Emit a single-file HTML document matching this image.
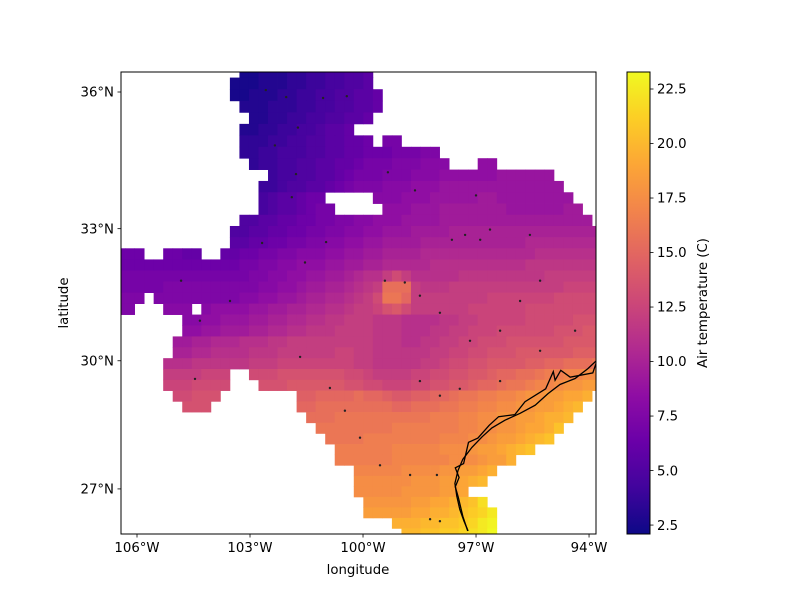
<!DOCTYPE html>
<html><head><meta charset="utf-8"><style>
html,body{margin:0;padding:0;background:#fff;}
svg text{font-family:"DejaVu Sans","Liberation Sans",sans-serif;fill:#000;}
</style></head><body>
<svg id="fig" width="800" height="600" viewBox="0 0 800 600" xmlns="http://www.w3.org/2000/svg">
<rect width="800" height="600" fill="#fff"/>
<defs>
<clipPath id="plotclip"><rect x="121" y="72" width="475" height="462"/></clipPath>
<linearGradient id="plasma" x1="0" y1="1" x2="0" y2="0"></linearGradient>
</defs>
<g id="cells" clip-path="url(#plotclip)"></g>
<g id="coast" clip-path="url(#plotclip)"></g>
<g id="stations" clip-path="url(#plotclip)"></g>
<rect x="121" y="72" width="475" height="462" fill="none" stroke="#000" stroke-width="1"/>
<g id="xticks"></g>
<g id="yticks"></g>
<text x="358" y="574" font-size="13.3" text-anchor="middle">longitude</text>
<text x="68" y="303" font-size="13.3" text-anchor="middle" transform="rotate(-90 68 303)">latitude</text>
<rect x="627" y="72" width="23" height="462" fill="url(#plasma)"/>
<rect x="627" y="72" width="23" height="462" fill="none" stroke="#000" stroke-width="1"/>
<g id="cbticks"></g>
<text x="707" y="303" font-size="13.3" text-anchor="middle" transform="rotate(-90 707 303)">Air temperature (C)</text>
</svg>
<script>
// ---- data ----
const levelChars = "ABCDEFGHIJKLMNOPQRSTUVWXYZabcdefghijklmnopqr"; // A=2.0, step 0.5
const rowSegments = [
 [[13,"BBCCCDDEEFFGGH"]],
 [[12,"BBBCCCDDEEFFGGH"]],
 [[12,"BBCCCDDEEFFGGHHI"]],
 [[13,"CCCDDDEEFFGGHHI"]],
 [[14,"CCDDEEFFGGHHI"]],
 [[13,"CCDDEEFFGHHI"]],
 [[13,"DDDEEFFGGHHIIJ"],[28,"KK"]],
 [[13,"DDEEFFFGGHHIIJJJKKKLL"]],
 [[14,"DEEFFGGHHIIJKKKLLLMMM"],[38,"NN"]],
 [[16,"EFFGGHHIJKKKLLLMMMNNNNNNOOOOOO"]],
 [[15,"EEFGGHHIJKLLLMMMNNNOOOOOOOOOOOOO"]],
 [[15,"FGHHIJJ"],[27,"MMMNNNOOOOOPPOOOOOOOO"]],
 [[15,"FGHHIJKK"],[28,"NNNOOOPPPPPPPOOOOOOPP"]],
 [[13,"GGHHIIJJKKLLMMNNNOOOOPPPPPPPPPPPPPPPP"]],
 [[12,"GGHHIIJJKKLLMMNNOOOPPPPQQQQQQQQQQQQQQQQ"]],
 [[12,"HHIIJJKKLLMMNNOOPPPPQQQQQQQQQQQRRRRRRRR"]],
 [[0,"JJJ"],[5,"JJII"],[11,"IIJJKKLLMMMNNOOPPQQQQRRRRRRRRRRRRSSSSSSS"]],
 [[0,"JJJJJJJJJJJJJKKLLMMNNNOOPPQQRRRRRSSSSSSSSSSTTTTTTTT"]],
 [[0,"KKKKKKKKKKKKKKLLMMNNOOPPQRSSUWUSSSSSTTTTTTTTTUUUUUU"]],
 [[0,"KKKKKLLLLLLLLLLMMNNOPPQQRSTUbbbUTTTUUUUUUUUUUUUVVVV"]],
 [[0,"LLL"],[4,"LLLLLLLLLMMNNOOPQQRRSTUWccaUUUUUUUUVVVVVVVWWWWW"]],
 [[0,"LL"],[5,"MMM"],[9,"MNNNNOOPPQQRRSSTUUVXYWUUUUUUVVVVVVWWWWWWWW"]],
 [[7,"MMNNOOOPPQQRRSSTTUUUTTTSSSSTTUUVVVVVWWWWWXXX"]],
 [[7,"NNOOPPPQQRRSSTTTUUUUTTTSSSTTUUVVVWWWWWWXXXYY"]],
 [[6,"PPQQRRRSSSTTUUUUUUUUUTTTSSTTUUVVWWWXXXXXXYYYY"]],
 [[6,"QQRRSSSSTTTUUUUUUVVUUTTTTTTUUVVWWXXXYYYYYYZZZ"]],
 [[5,"SSSTTTTTTUUUVVVVVVVVUUTTTTTUUVWWXXYYYYZZaabbbc"]],
 [[5,"UUUUVVV"],[14,"WWWXXXXXXXWWVUUUUVVWWXXYYZaabbcddeeff"]],
 [[5,"VVVWWWW"],[15,"XXXYYYYYYXXWWVVVWWXXYYZaabccdeefgghh"]],
 [[6,"WWXXX"],[19,"ZZaaaabaaZYYZZaabccddeefgghhiij"]],
 [[7,"XXX"],[19,"aabbbbbbbbaabbbccddeeffgghhijk"]],
 [[20,"bbbccccccccccdddeeffgghhijjk"]],
 [[21,"ccccccccdddddddeeffgghiijl"]],
 [[22,"ccccddddddddeeeffghhijkl"]],
 [[23,"ddddddeeeeefffghhijkl"]],
 [[23,"ddddddeeeeeefffghhj"]],
 [[25,"eeeeeffffgghhij"]],
 [[25,"ffffffggghhijk"]],
 [[25,"fffffgggghhi"]],
 [[26,"ggggghhiijklo"]],
 [[26,"hhhhhiijjklmnp"]],
 [[29,"jjjkkllmnpq"]],
 [[30,"kkllmmnopr"]]
];
const gridLon0 = -106.57, gridDLon = 0.253;
const gridLatTop = 36.56, gridDLat = 0.25;
const vmin = 2.09, vmax = 23.28;
const xTickLons = [-106,-103,-100,-97,-94];
const xTickLabels = ["106°W","103°W","100°W","97°W","94°W"];
const yTickLats = [36,33,30,27];
const yTickLabels = ["36°N","33°N","30°N","27°N"];
const cbTicks = [2.5,5.0,7.5,10.0,12.5,15.0,17.5,20.0,22.5];
const cbTickLabels = ["2.5","5.0","7.5","10.0","12.5","15.0","17.5","20.0","22.5"];
const coastLon = [-93.81,-94.03,-94.37,-94.77,-95.09,-95.43,-95.83,-96.23,-96.58,-96.84,-97.11,-97.35,-97.48,-97.56,-97.51,-97.43,-97.32,-97.21];
const coastLat = [30.0,29.82,29.59,29.45,29.24,28.97,28.78,28.62,28.44,28.23,27.98,27.70,27.43,27.13,26.83,26.51,26.23,26.0];
const bayLon = [-93.81,-93.9,-94.5,-94.75,-94.9,-94.95,-95.15,-95.7,-95.97,-96.4,-96.65,-96.95,-97.2,-97.33,-97.55,-97.45,-97.55,-97.47,-97.35,-97.22];
const bayLat = [29.95,29.72,29.62,29.78,29.55,29.75,29.35,29.05,28.75,28.7,28.5,28.2,28.1,27.6,27.5,27.27,27.05,26.8,26.35,26.0];
const stationLon = [-102.58,-102.04,-101.06,-100.43,-101.73,-102.34,-101.78,-101.89,-102.68,-100.98,-101.54,-104.83,-103.53,-104.33,-104.46,-101.67,-100.88,-100.48,-100.08,-99.55,-98.75,-98.04,-98.22,-97.96,-99.42,-98.89,-98.49,-97.96,-97.16,-96.36,-95.83,-95.30,-97.64,-97.29,-96.89,-96.63,-95.57,-94.37,-98.62,-99.34,-97.0,-97.96,-97.43,-98.49,-96.36,-95.30];
const stationLat = [36.04,35.89,35.87,35.91,35.23,34.84,34.21,33.70,32.68,32.70,32.24,31.83,31.37,30.92,29.58,30.09,29.37,28.84,28.21,27.56,27.33,27.33,26.28,26.23,31.83,31.79,31.49,31.10,30.46,30.69,31.37,31.83,32.75,32.86,32.75,32.98,32.86,30.69,33.85,34.25,33.74,29.19,29.35,29.53,29.53,30.23];

// ---- scales ----
const NS = "http://www.w3.org/2000/svg";
function merc(lat){ return Math.log(Math.tan(Math.PI/4 + lat*Math.PI/360)); }
const M36 = merc(36), YSCALE = 2150.6;
function xOf(lon){ return 137 + (lon + 106) * 37.67; }
function yOf(lat){ return 92 - (merc(lat) - M36) * YSCALE; }
const plasmaStops = [[13,8,135],[65,4,157],[106,0,168],[143,13,164],[177,42,144],[204,71,120],[225,100,98],[242,132,75],[252,166,54],[252,206,37],[240,249,33]];
function plasma(t){
  t = Math.max(0, Math.min(1, t));
  const p = t*10, i = Math.min(9, Math.floor(p)), f = p - i;
  const a = plasmaStops[i], b = plasmaStops[i+1];
  return "rgb(" + a.map((v,k)=>Math.round(v + (b[k]-v)*f)).join(",") + ")";
}
function colorOf(v){ return plasma((v - vmin)/(vmax - vmin)); }
function mk(tag, attrs, parent){
  const e = document.createElementNS(NS, tag);
  for (const k in attrs) e.setAttribute(k, attrs[k]);
  parent.appendChild(e); return e;
}

// gradient
const grad = document.getElementById('plasma');
plasmaStops.forEach((s,i)=>{ mk('stop',{offset:(i*10)+'%','stop-color':'rgb('+s.join(',')+')'},grad); });

// cells
const gCells = document.getElementById('cells');
rowSegments.forEach((segs, r)=>{
  const latTop = gridLatTop - r*gridDLat, latBot = latTop - gridDLat;
  const y0 = yOf(latTop), y1 = yOf(latBot);
  segs.forEach(([start, str])=>{
    for (let j=0;j<str.length;j++){
      const c = start + j;
      const v = 2 + levelChars.indexOf(str[j]) * 0.5;
      const x0 = xOf(gridLon0 + c*gridDLon), x1 = xOf(gridLon0 + (c+1)*gridDLon);
      const el = mk('rect',{x:x0.toFixed(2),y:y0.toFixed(2),width:(x1-x0+0.4).toFixed(2),height:(y1-y0+0.4).toFixed(2),fill:colorOf(v)},gCells);
      
      
    }
  });
});

// coastline
const gCoast = document.getElementById('coast');
function line(lons, lats, name){
  const d = lons.map((lo,i)=>(i?'L':'M')+xOf(lo).toFixed(1)+','+yOf(lats[i]).toFixed(1)).join('');
  const el = mk('path',{d:d,fill:'none',stroke:'#000','stroke-width':1.3},gCoast);
  
  
}
line(coastLon, coastLat, 'coastline-outer');
line(bayLon, bayLat, 'coastline-inner');

// stations
const gSt = document.getElementById('stations');
stationLon.forEach((lo,i)=>{
  const el = mk('circle',{cx:xOf(lo).toFixed(1),cy:yOf(stationLat[i]).toFixed(1),r:1.2,fill:'#222'},gSt);
  
  
});

// x ticks
const gx = document.getElementById('xticks');
xTickLons.forEach((lo,i)=>{
  const x = xOf(lo);
  const t = mk('line',{x1:x,y1:534,x2:x,y2:537.5,stroke:'#000','stroke-width':0.8},gx);
  
  
  const l = mk('text',{x:x,y:552,'font-size':13.3,'text-anchor':'middle'},gx);
  l.textContent = xTickLabels[i];
  
  
});
// y ticks
const gy = document.getElementById('yticks');
yTickLats.forEach((la,i)=>{
  const y = yOf(la);
  const t = mk('line',{x1:117.5,y1:y,x2:121,y2:y,stroke:'#000','stroke-width':0.8},gy);
  
  
  const l = mk('text',{x:114,y:y+4.7,'font-size':13.3,'text-anchor':'end'},gy);
  l.textContent = yTickLabels[i];
  
  
});
// colorbar ticks
const gc = document.getElementById('cbticks');
cbTicks.forEach((v,i)=>{
  const y = 534 - (v - vmin)/(vmax - vmin)*462;
  const t = mk('line',{x1:650,y1:y,x2:653.5,y2:y,stroke:'#000','stroke-width':0.8},gc);
  
  
  const l = mk('text',{x:657,y:y+4.7,'font-size':13.3},gc);
  l.textContent = cbTickLabels[i];
  
  
});
</script>
</body></html>
